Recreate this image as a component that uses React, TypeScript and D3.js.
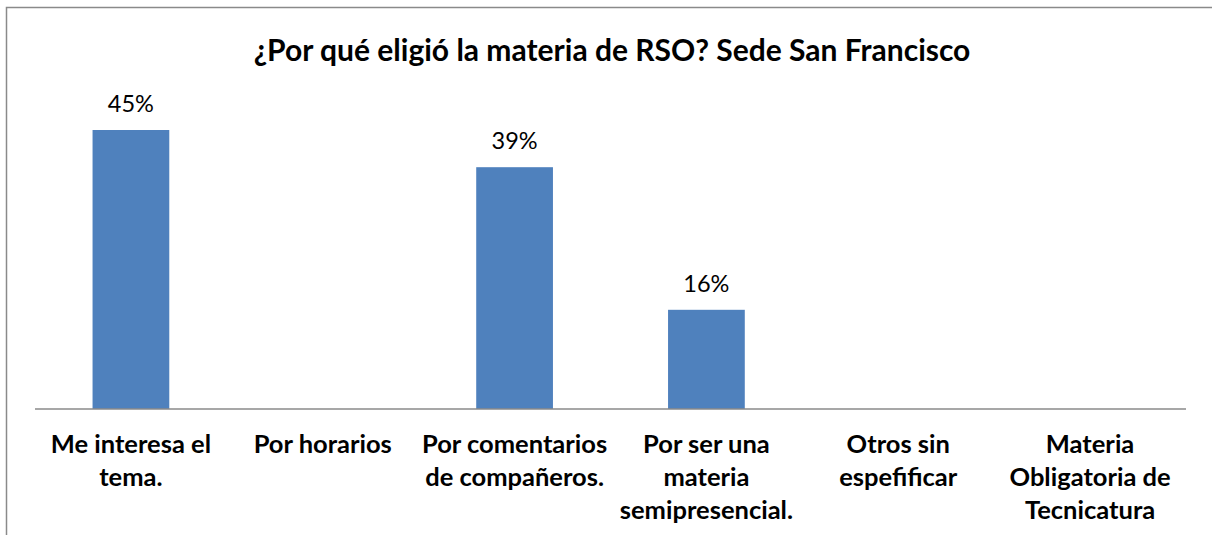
import React from "react";
import * as d3 from "d3";

const title = "¿Por qué eligió la materia de RSO? Sede San Francisco";
const categories = [
  "Me interesa el\ntema.",
  "Por horarios",
  "Por comentarios\nde compañeros.",
  "Por ser una\nmateria\nsemipresencial.",
  "Otros sin\nespefificar",
  "Materia\nObligatoria de\nTecnicatura",
];
const values = [0.45, 0, 0.39, 0.16, 0, 0];

const W = 1212;
const H = 535;
const FONT = "Lato, Carlito, Calibri, sans-serif";

export default function App() {
  const x = d3.scaleBand<string>().domain(categories).range([35, 1186]).padding(0);
  const y = d3.scaleLinear().domain([0, 0.5]).range([409, 99]);
  const bw = x.bandwidth() * 0.4;
  const fmt = d3.format(".0%");

  return (
    <svg width={W} height={H} style={{ position: "absolute", left: 0, top: 0 }} fontFamily={FONT}>
      <rect x={0} y={0} width={W} height={H} fill="#fff" />
      <rect x={6.5} y={7.5} width={W + 20} height={H + 20} fill="none" stroke="#8a8a8a" strokeWidth={1.5} />
      <text x={612} y={61} textAnchor="middle" fontSize={30} fontWeight="bold" fill="#000">
        {title}
      </text>
      {categories.map((c, i) => {
        const v = values[i];
        const cx = (x(c) as number) + x.bandwidth() / 2;
        return (
          <g key={c}>
            {v > 0 && (
              <rect x={cx - bw / 2} y={y(v)} width={bw} height={y(0) - y(v)} fill="#4F81BD" />
            )}
            {v > 0 && (
              <text x={cx} y={y(v) - 18} textAnchor="middle" fontSize={23.5} fill="#000">
                {fmt(v)}
              </text>
            )}
          </g>
        );
      })}
      <line x1={35} x2={1186} y1={y(0)} y2={y(0)} stroke="#8a8a8a" strokeWidth={1.5} />
      {categories.map((c) => {
        const cx = (x(c) as number) + x.bandwidth() / 2;
        return (
          <text key={"l" + c} x={cx} y={453} textAnchor="middle" fontSize={25.5} fontWeight="bold" fill="#000">
            {c.split("\n").map((line, j) => (
              <tspan key={j} x={cx} dy={j === 0 ? 0 : 33}>
                {line}
              </tspan>
            ))}
          </text>
        );
      })}
    </svg>
  );
}
